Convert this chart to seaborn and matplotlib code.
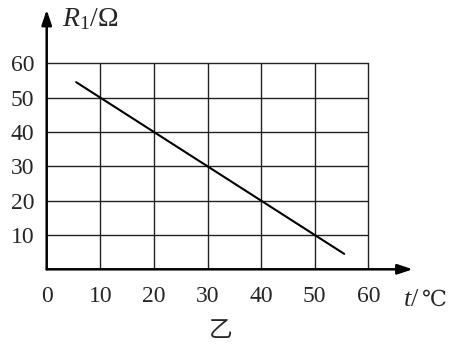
import matplotlib
matplotlib.use("Agg")
import matplotlib.pyplot as plt
import seaborn as sns
import pandas as pd

# data
t_values = [5.5, 55.5]
r_values = [54.5, 4.5]
x_ticks = [0, 10, 20, 30, 40, 50, 60]
y_ticks = [10, 20, 30, 40, 50, 60]
x_label_var = r"$\mathit{t}$/"
x_label_unit = "℃"
y_label = r"$\mathit{R}_{\mathrm{1}}$/Ω"
caption = "乙"

sns.set_style("white")
plt.rcParams["font.family"] = ["Liberation Serif", "DejaVu Serif", "Noto Sans CJK SC"]
plt.rcParams["mathtext.fontset"] = "custom"
plt.rcParams["mathtext.rm"] = "Liberation Serif"
plt.rcParams["mathtext.it"] = "Liberation Serif:italic"

W, H = 449, 354
fig = plt.figure(figsize=(W / 100, H / 100), dpi=100)
x0, x1 = 46.7, 368.3
y0, y1 = 269.3, 63.3
ax = fig.add_axes([x0 / W, (H - y0) / H, (x1 - x0) / W, (y0 - y1) / H])

df = pd.DataFrame({"t": t_values, "R": r_values})
sns.lineplot(data=df, x="t", y="R", ax=ax, color="black", linewidth=1.5)

ax.set_xlim(0, 60)
ax.set_ylim(0, 60)
for v in x_ticks[1:]:
    ax.axvline(v, color="#222222", linewidth=1.0, zorder=0, clip_on=False)
for v in y_ticks:
    ax.axhline(v, color="#222222", linewidth=1.0, zorder=0, clip_on=False)

for s in ["top", "right", "left", "bottom"]:
    ax.spines[s].set_visible(False)

ax.set_xticks(x_ticks)
ax.set_xticklabels([str(v) for v in x_ticks])
ax.set_yticks(y_ticks)
ax.set_yticklabels([str(v) for v in y_ticks])
ax.tick_params(axis="both", length=0, labelsize=17)
ax.tick_params(axis="x", pad=12)
ax.tick_params(axis="y", pad=9)
ax.set_xlabel("")
ax.set_ylabel("")

# axes with arrows
ax.annotate("", xy=(68.3, 0), xytext=(0, 0), xycoords="data",
            arrowprops=dict(arrowstyle="-|>,head_length=0.9,head_width=0.3",
                            color="black", lw=1.8, shrinkA=0, shrinkB=0),
            annotation_clip=False)
ax.annotate("", xy=(0, 75.6), xytext=(0, 0), xycoords="data",
            arrowprops=dict(arrowstyle="-|>,head_length=0.9,head_width=0.3",
                            color="black", lw=1.8, shrinkA=0, shrinkB=0),
            annotation_clip=False)

fig.text(62 / W, 1 - 19 / H, y_label, fontsize=20, ha="left", va="center")
fig.text(403 / W, 1 - 300 / H, x_label_var, fontsize=19, ha="left", va="center")
fig.text(422 / W, 1 - 300 / H, x_label_unit, fontsize=16, ha="left", va="center",
         family=["DejaVu Serif", "DejaVu Sans", "Noto Sans CJK SC"])
fig.text(221 / W, 1 - 330 / H, caption, fontsize=17, ha="center", va="center",
         family=["Noto Sans CJK SC", "DejaVu Sans"])

fig.savefig("out.png", dpi=100)
